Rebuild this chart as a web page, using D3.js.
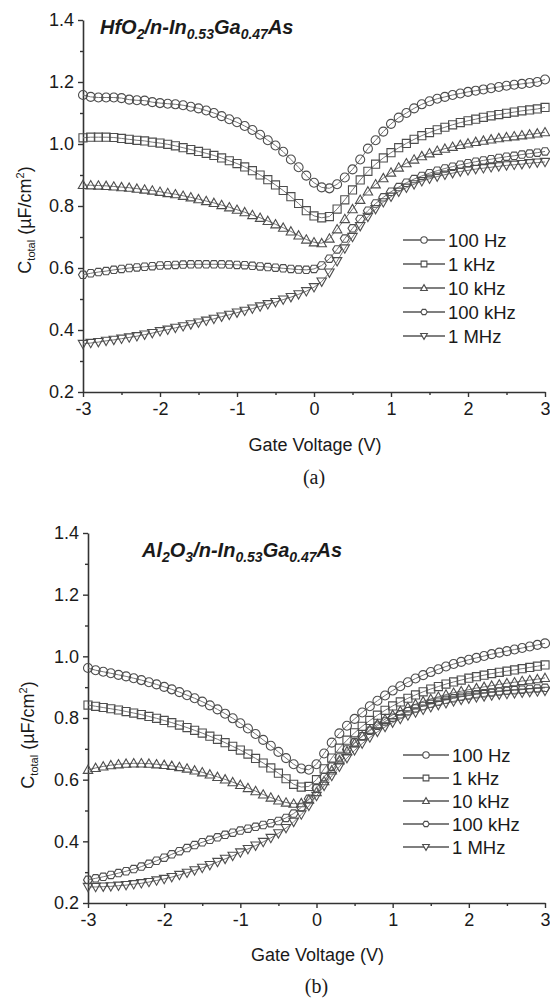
<!DOCTYPE html>
<html>
<head>
<meta charset="utf-8">
<script src="https://cdn.jsdelivr.net/npm/d3@7"></script>
<style>
  body { margin: 0; background: #fff; }
  svg { display: block; font-family: Arial, "Liberation Sans", sans-serif; }
</style>
</head>
<body>
<svg id="chart" width="550" height="1003"></svg>
<script>
// gate voltage sweep (V)
const voltage = [-3.0,-2.9,-2.8,-2.7,-2.6,-2.5,-2.4,-2.3,-2.2,-2.1,-2.0,-1.9,-1.8,-1.7,-1.6,-1.5,-1.4,-1.3,-1.2,-1.1,
  -1.0,-0.9,-0.8,-0.7,-0.6,-0.5,-0.4,-0.3,-0.2,-0.1,0.0,0.1,0.2,0.3,0.4,0.5,0.6,0.7,0.8,0.9,
  1.0,1.1,1.2,1.3,1.4,1.5,1.6,1.7,1.8,1.9,2.0,2.1,2.2,2.3,2.4,2.5,2.6,2.7,2.8,2.9,3.0];

const freqLabels = ["100 Hz", "1 kHz", "10 kHz", "100 kHz", "1 MHz"];
const freqSymbols = ["circle", "square", "triangle", "hexagon", "triangleDown"];
const xTicks = [-3, -2, -1, 0, 1, 2, 3];
const xMinor = [-2.5, -1.5, -0.5, 0.5, 1.5, 2.5];
const yTicks = [0.2, 0.4, 0.6, 0.8, 1.0, 1.2, 1.4];
const yMinor = [0.3, 0.5, 0.7, 0.9, 1.1, 1.3];

// (a) HfO2 / n-InGaAs, C_total in uF/cm2
const hfo2_100Hz = [1.158,1.152,1.150,1.150,1.150,1.148,1.143,1.141,1.140,1.135,1.132,1.130,1.128,1.125,1.120,1.115,1.108,1.100,1.090,1.080,
  1.070,1.058,1.045,1.030,1.012,0.995,0.975,0.950,0.925,0.898,0.875,0.860,0.857,0.870,0.892,0.918,0.950,0.985,1.012,1.040,
  1.065,1.085,1.100,1.115,1.128,1.138,1.146,1.152,1.158,1.163,1.168,1.172,1.176,1.180,1.184,1.188,1.191,1.194,1.197,1.200,1.208];
const hfo2_1kHz = [1.020,1.022,1.022,1.022,1.021,1.018,1.015,1.012,1.010,1.006,1.003,0.999,0.994,0.988,0.982,0.976,0.970,0.963,0.955,0.946,
  0.937,0.926,0.914,0.900,0.885,0.868,0.850,0.830,0.808,0.785,0.768,0.762,0.766,0.790,0.820,0.852,0.884,0.912,0.935,0.955,
  0.972,0.988,1.002,1.015,1.027,1.037,1.046,1.054,1.062,1.069,1.075,1.080,1.086,1.091,1.095,1.099,1.103,1.107,1.110,1.113,1.118];
const hfo2_10kHz = [0.868,0.867,0.866,0.865,0.863,0.861,0.859,0.856,0.853,0.850,0.846,0.842,0.838,0.833,0.828,0.822,0.816,0.810,0.803,0.796,
  0.788,0.780,0.771,0.762,0.752,0.741,0.730,0.718,0.705,0.692,0.683,0.680,0.695,0.725,0.758,0.790,0.820,0.847,0.870,0.890,
  0.908,0.924,0.938,0.950,0.961,0.970,0.978,0.985,0.991,0.997,1.002,1.007,1.011,1.015,1.019,1.022,1.025,1.028,1.031,1.034,1.038];
const hfo2_100kHz = [0.578,0.583,0.587,0.590,0.594,0.597,0.600,0.602,0.604,0.606,0.608,0.609,0.610,0.611,0.612,0.612,0.612,0.612,0.612,0.611,
  0.610,0.609,0.607,0.605,0.603,0.601,0.599,0.597,0.595,0.594,0.597,0.608,0.630,0.660,0.695,0.728,0.758,0.785,0.808,0.828,
  0.846,0.861,0.875,0.887,0.897,0.906,0.914,0.921,0.927,0.933,0.938,0.943,0.947,0.951,0.955,0.959,0.962,0.966,0.969,0.972,0.976];
const hfo2_1MHz = [0.355,0.358,0.361,0.365,0.368,0.372,0.376,0.380,0.385,0.390,0.396,0.401,0.407,0.412,0.418,0.424,0.430,0.436,0.443,0.449,
  0.456,0.462,0.469,0.476,0.483,0.490,0.498,0.506,0.515,0.525,0.538,0.556,0.585,0.622,0.663,0.700,0.735,0.765,0.790,0.812,
  0.830,0.846,0.859,0.870,0.880,0.888,0.895,0.901,0.906,0.911,0.915,0.919,0.922,0.925,0.928,0.931,0.933,0.935,0.938,0.940,0.942];

// (b) Al2O3 / n-InGaAs
const al2o3_100Hz = [0.962,0.955,0.950,0.945,0.940,0.935,0.929,0.923,0.916,0.909,0.901,0.893,0.884,0.874,0.864,0.853,0.841,0.828,0.814,0.799,
  0.783,0.766,0.748,0.729,0.710,0.690,0.670,0.650,0.636,0.632,0.650,0.685,0.720,0.750,0.775,0.797,0.818,0.838,0.856,0.873,
  0.889,0.903,0.916,0.928,0.939,0.949,0.958,0.967,0.975,0.982,0.989,0.995,1.001,1.007,1.012,1.017,1.022,1.027,1.032,1.037,1.042];
const al2o3_1kHz = [0.842,0.838,0.834,0.830,0.826,0.821,0.816,0.811,0.805,0.799,0.792,0.785,0.777,0.769,0.760,0.751,0.741,0.731,0.720,0.708,
  0.696,0.683,0.669,0.654,0.638,0.621,0.603,0.585,0.576,0.578,0.600,0.635,0.670,0.702,0.728,0.752,0.773,0.792,0.809,0.825,
  0.839,0.852,0.864,0.875,0.885,0.894,0.902,0.910,0.917,0.923,0.929,0.934,0.939,0.944,0.948,0.952,0.956,0.960,0.964,0.968,0.972];
const al2o3_10kHz = [0.632,0.638,0.643,0.647,0.650,0.652,0.653,0.653,0.652,0.650,0.648,0.645,0.641,0.636,0.630,0.624,0.617,0.609,0.601,0.592,
  0.583,0.573,0.563,0.552,0.542,0.533,0.526,0.522,0.524,0.535,0.560,0.595,0.630,0.663,0.692,0.718,0.741,0.762,0.780,0.796,
  0.810,0.823,0.835,0.845,0.854,0.862,0.869,0.876,0.882,0.887,0.892,0.897,0.901,0.905,0.909,0.913,0.916,0.920,0.923,0.926,0.930];
const al2o3_100kHz = [0.275,0.280,0.285,0.291,0.297,0.303,0.310,0.318,0.327,0.337,0.347,0.358,0.368,0.378,0.388,0.397,0.405,0.413,0.421,0.428,
  0.435,0.441,0.447,0.453,0.459,0.466,0.476,0.490,0.510,0.538,0.572,0.608,0.642,0.672,0.698,0.721,0.741,0.759,0.775,0.789,
  0.801,0.812,0.822,0.831,0.839,0.846,0.853,0.859,0.864,0.869,0.873,0.877,0.880,0.883,0.886,0.888,0.890,0.892,0.894,0.896,0.898];
const al2o3_1MHz = [0.252,0.252,0.253,0.254,0.256,0.258,0.261,0.264,0.268,0.273,0.278,0.284,0.291,0.298,0.306,0.314,0.323,0.333,0.343,0.353,
  0.364,0.375,0.386,0.398,0.411,0.426,0.443,0.463,0.487,0.515,0.547,0.580,0.612,0.642,0.670,0.695,0.717,0.737,0.755,0.771,
  0.785,0.797,0.808,0.818,0.827,0.835,0.842,0.848,0.854,0.859,0.863,0.867,0.870,0.873,0.876,0.878,0.880,0.882,0.884,0.886,0.888];

const svg = d3.select("#chart");
const ink = "#333";
const markInk = "#4d4d4d";

// open marker shapes, r is roughly the half width
function markerPath(type, r) {
  const p = d3.path();
  if (type === "circle") {
    p.arc(0, 0, r, 0, 2 * Math.PI);
  } else if (type === "square") {
    const s = r * 0.9;
    p.rect(-s, -s, 2 * s, 2 * s);
  } else if (type === "triangle") {
    p.moveTo(0, -r * 1.05); p.lineTo(r * 1.05, r * 0.8); p.lineTo(-r * 1.05, r * 0.8); p.closePath();
  } else if (type === "triangleDown") {
    p.moveTo(0, r * 1.05); p.lineTo(r * 1.05, -r * 0.8); p.lineTo(-r * 1.05, -r * 0.8); p.closePath();
  } else if (type === "hexagon") {
    for (let i = 0; i < 6; i++) {
      const a = Math.PI / 3 * i;
      const px = r * Math.cos(a), py = r * Math.sin(a) * 0.95;
      i === 0 ? p.moveTo(px, py) : p.lineTo(px, py);
    }
    p.closePath();
  }
  return p.toString();
}

function drawPanel(cfg) {
  const x = d3.scaleLinear().domain([-3, 3]).range([cfg.left, cfg.right]);
  const y = d3.scaleLinear().domain([0.2, 1.4]).range([cfg.bottom, cfg.top]);
  const g = svg.append("g");

  // axes
  g.append("g").attr("transform", `translate(0,${cfg.bottom})`)
    .call(d3.axisBottom(x).tickValues(xTicks).tickSize(5).tickSizeOuter(0).tickPadding(5).tickFormat(d => String(d)));
  g.append("g").attr("transform", `translate(0,${cfg.bottom})`)
    .call(d3.axisBottom(x).tickValues(xMinor).tickSize(3).tickSizeOuter(0).tickFormat(""))
    .select(".domain").remove();
  g.append("g").attr("transform", `translate(${cfg.left},0)`)
    .call(d3.axisLeft(y).tickValues(yTicks).tickSize(5).tickSizeOuter(0).tickPadding(4).tickFormat(d3.format(".1f")));
  g.append("g").attr("transform", `translate(${cfg.left},0)`)
    .call(d3.axisLeft(y).tickValues(yMinor).tickSize(3).tickSizeOuter(0).tickFormat(""))
    .select(".domain").remove();

  g.selectAll(".domain").attr("stroke", ink).attr("stroke-width", 1.6);
  g.selectAll(".tick line").attr("stroke", ink).attr("stroke-width", 1.4);
  g.selectAll(".tick text").attr("fill", "#1a1a1a").style("font-size", "18px")
    .style("font-family", "Arial, 'Liberation Sans', sans-serif");

  // series lines + markers
  cfg.series.forEach((vals, i) => {
    const pts = voltage.map((v, k) => [v, vals[k]]);
    g.append("path")
      .attr("d", d3.line().x(d => x(d[0])).y(d => y(d[1]))(pts))
      .attr("fill", "none").attr("stroke", "#777").attr("stroke-width", 1);
    g.append("g").selectAll("path")
      .data(pts).enter().append("path")
      .attr("transform", d => `translate(${x(d[0])},${y(d[1])})`)
      .attr("d", markerPath(freqSymbols[i], 4.5))
      .attr("fill", "none").attr("stroke", markInk).attr("stroke-width", 1.1);
  });

  // legend
  freqLabels.forEach((lab, i) => {
    const ly = cfg.legendY + i * cfg.legendStep;
    g.append("line").attr("x1", 403).attr("x2", cfg.legendLineEnd).attr("y1", ly).attr("y2", ly)
      .attr("stroke", "#555").attr("stroke-width", 1.3);
    g.append("path").attr("transform", `translate(${(403 + cfg.legendLineEnd) / 2},${ly})`)
      .attr("d", markerPath(freqSymbols[i], 3.2))
      .attr("fill", "#fff").attr("stroke", markInk).attr("stroke-width", 1.1);
    g.append("text").attr("x", cfg.legendLineEnd + 3).attr("y", ly + 6.5)
      .style("font-size", "18.5px").attr("fill", "#1a1a1a").text(lab);
  });

  // title (bold italic with subscripts)
  const tt = g.append("text").attr("x", cfg.titleX).attr("y", cfg.titleY)
    .style("font-size", "20px").style("font-weight", "bold")
    .style("font-style", "italic").attr("fill", "#1a1a1a");
  cfg.title.forEach(part => {
    const ts = tt.append("tspan").text(part[0]);
    if (part[1]) ts.style("font-size", "14px").attr("dy", 5);
    else ts.attr("dy", part[2] ? -5 : 0);
  });

  // y label
  const yl = g.append("text")
    .attr("transform", `translate(${cfg.yLabelX},${cfg.yLabelY}) rotate(-90)`)
    .attr("text-anchor", "middle").style("font-size", "18px").attr("fill", "#1a1a1a");
  yl.append("tspan").text("C");
  yl.append("tspan").text("total").style("font-size", "11px").attr("dy", 4);
  yl.append("tspan").text(" (\u00b5F/cm").attr("dy", -4);
  yl.append("tspan").text("2").style("font-size", "11px").attr("dy", -7);
  yl.append("tspan").text(")").attr("dy", 7);

  // x label and panel tag
  g.append("text").attr("x", (cfg.left + cfg.right) / 2 + 1).attr("y", cfg.xLabelY)
    .attr("text-anchor", "middle").style("font-size", "18px").attr("fill", "#1a1a1a")
    .text("Gate Voltage (V)");
  g.append("text").attr("x", (cfg.left + cfg.right) / 2).attr("y", cfg.tagY)
    .attr("text-anchor", "middle").style("font-size", "20px")
    .style("font-family", "'Liberation Serif', 'Times New Roman', serif").attr("fill", "#1a1a1a")
    .text(cfg.tag);
}

drawPanel({
  left: 83, right: 545, top: 20, bottom: 392,
  series: [hfo2_100Hz, hfo2_1kHz, hfo2_10kHz, hfo2_100kHz, hfo2_1MHz],
  legendY: 240, legendStep: 24, legendLineEnd: 445,
  title: [["HfO"], ["2", true], ["/n-In", false, true], ["0.53", true], ["Ga", false, true], ["0.47", true], ["As", false, true]],
  titleX: 100, titleY: 34,
  yLabelX: 31, yLabelY: 220,
  xLabelY: 451, tag: "(a)", tagY: 484
});

drawPanel({
  left: 88, right: 545, top: 533, bottom: 903,
  series: [al2o3_100Hz, al2o3_1kHz, al2o3_10kHz, al2o3_100kHz, al2o3_1MHz],
  legendY: 755, legendStep: 23, legendLineEnd: 449,
  title: [["Al"], ["2", true], ["O", false, true], ["3", true], ["/n-In", false, true], ["0.53", true], ["Ga", false, true], ["0.47", true], ["As", false, true]],
  titleX: 142, titleY: 557,
  yLabelX: 34, yLabelY: 735,
  xLabelY: 961, tag: "(b)", tagY: 993
});
</script>
</body>
</html>
